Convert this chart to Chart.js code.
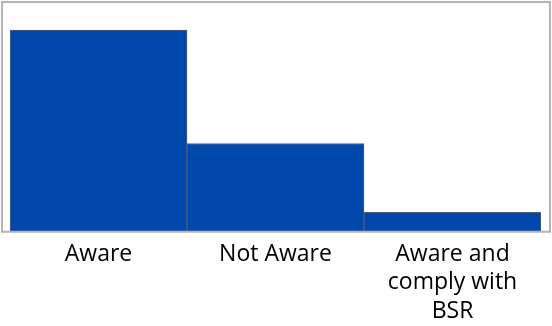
<!DOCTYPE html>
<html>
<head>
<meta charset="utf-8">
<script src="https://cdn.jsdelivr.net/npm/chart.js@4/dist/chart.umd.min.js"></script>
<style>
  html, body { margin: 0; padding: 0; background: #fff; }
  #wrap { width: 552px; height: 326px; }
</style>
</head>
<body>
<div id="wrap"><canvas id="chart"></canvas></div>
<script>
const categories = [['Aware'], ['Not Aware'], ['Aware and', 'comply with', 'BSR']];
const values = [65.8, 28.8, 6.3];
const yMax = 75;

// grey frame around the plot, a bit wider than the bars
const framePlugin = {
    id: 'frame',
    afterDraw(chart) {
        const a = chart.chartArea;
        const ctx = chart.ctx;
        ctx.save();
        ctx.strokeStyle = '#b3b3b3';
        ctx.lineWidth = 2;
        ctx.strokeRect(2, a.top, chart.width - 4, a.bottom - a.top);
        ctx.restore();
    }
};

new Chart(document.getElementById('chart'), {
    type: 'bar',
    data: {
        labels: categories,
        datasets: [{
            data: values,
            backgroundColor: '#0048ab',
            borderColor: '#4f5f75',
            borderWidth: 1,
            barPercentage: 1,
            categoryPercentage: 1
        }]
    },
    options: {
        animation: false,
        responsive: true,
        maintainAspectRatio: false,
        events: [],
        layout: { padding: { left: 10, right: 11, top: 2, bottom: 0 } },
        plugins: {
            legend: { display: false },
            tooltip: { enabled: false }
        },
        scales: {
            x: {
                grid: { display: false },
                border: { display: false },
                ticks: {
                    color: '#000',
                    maxRotation: 0,
                    autoSkip: false,
                    padding: 0,
                    font: { family: 'Open Sans', size: 23, lineHeight: 1.25 }
                }
            },
            y: {
                display: false,
                min: 0,
                max: yMax
            }
        }
    },
    plugins: [framePlugin]
});
</script>
</body>
</html>
